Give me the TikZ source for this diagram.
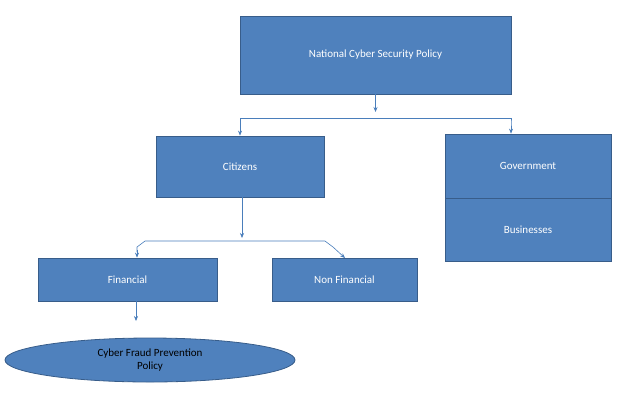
\documentclass[tikz,border=0pt]{standalone}
\usepackage{fontspec}
\setmainfont{Carlito}
\usetikzlibrary{shapes.geometric,arrows.meta}
\begin{document}
\begin{tikzpicture}[x=1pt,y=-1pt,
  box/.style={draw=boxline,fill=boxfill,text=white,font=\fontsize{11}{13}\selectfont,line width=0.8pt},
  conn/.style={draw=connblue,line width=0.6pt},
  arr/.style={conn,-{Stealth[length=5pt,width=4pt]}}]
\definecolor{boxfill}{HTML}{4F81BD}
\definecolor{boxline}{HTML}{385D8A}
\definecolor{connblue}{HTML}{4A7EBB}
\useasboundingbox (0,0) rectangle (623,413);
\node[box,minimum width=271pt,minimum height=78pt] (top) at (375.5,55) {National Cyber Security Policy};
\node[box,minimum width=168pt,minimum height=61pt] (cit) at (240,166.5) {Citizens};
\node[box,minimum width=166pt,minimum height=64pt] (gov) at (528,166) {Government};
\node[box,minimum width=166pt,minimum height=63pt] (bus) at (528,229.5) {Businesses};
\node[box,minimum width=179pt,minimum height=43pt] (fin) at (127.5,279.5) {Financial};
\node[box,minimum width=145pt,minimum height=43pt] (non) at (344.5,279.5) {Non Financial};
\node[box,ellipse,minimum width=290pt,minimum height=44pt,inner sep=0pt,align=center,text=black,font=\fontsize{11}{13}\selectfont] (cf) at (150,360) {Cyber Fraud Prevention\\Policy};
\coordinate (j1) at (375.5,112);
\coordinate (j2) at (242,238);
\draw[arr] (top.south) -- (j1);
\draw[arr] (240,122) -- (240,118) -- (511,118) -- (511,122) -- (gov.north -| 511,0);
\draw[arr] (240,122) -- (cit.north -| 240,0);
\draw[arr] (cit.south -| 242,0) -- (j2);
\draw[conn] (137,252) -- (137,247) -- (145,241) -- (325,241) -- (333,247);
\draw[arr] (137,250) -- (fin.north -| 137,0);
\draw[arr] (333,247) -- (345,258);
\draw[arr] (fin.south -| 136,0) -- (136,321);
\end{tikzpicture}
\end{document}
